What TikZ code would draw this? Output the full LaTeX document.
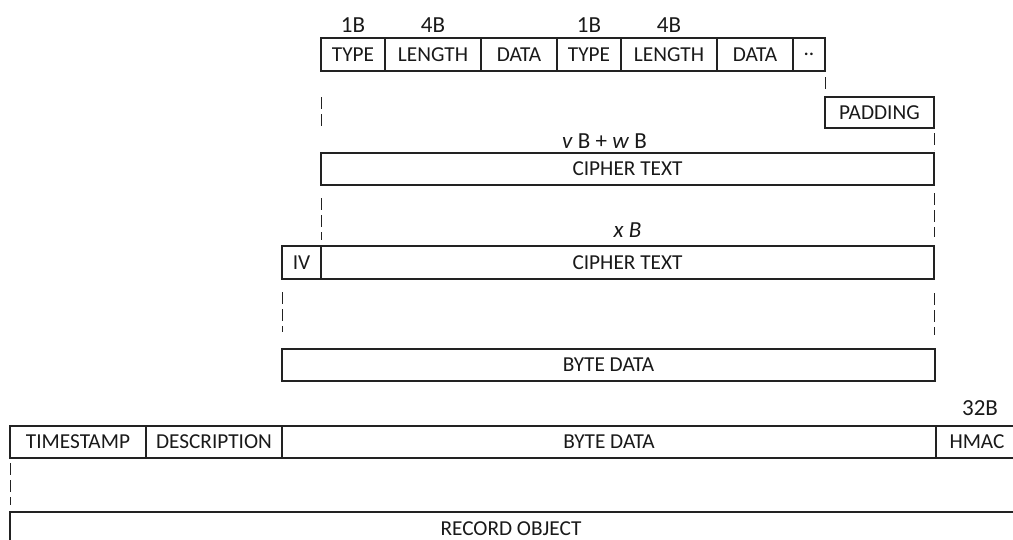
\documentclass[tikz,border=0pt]{standalone}
\usepackage{fontspec}
\setmainfont{Carlito}
\usetikzlibrary{positioning,calc}
\definecolor{ln}{HTML}{222222}
\tikzset{
  cell/.style={draw=ln, line width=1.2pt, inner sep=0pt, outer sep=0pt, anchor=north west,
    font=\fontsize{21.3}{24}\selectfont, text=black!90},
  txt/.style={inner sep=0pt, font=\fontsize{21.3}{24}\selectfont, text=black!90},
  lab/.style={inner sep=0pt, font=\fontsize{23}{26}\selectfont, text=black!90},
  frame/.style={draw=ln, line width=1.2pt},
  guide/.style={draw=ln, line width=1pt, dash pattern=on 12pt off 5pt},
}
\begin{document}
\begin{tikzpicture}[x=1pt,y=-1pt]
\useasboundingbox (0,0) rectangle (1013,539);
\clip (0,0) rectangle (1013,539);
% top row
\node[cell, minimum width=64pt, minimum height=33pt] (type1) at (321,38) {TYPE};
\node[cell, minimum width=96pt, minimum height=33pt] (len1) at (385,38) {LENGTH};
\node[cell, minimum width=76pt, minimum height=33pt] (data1) at (481,38) {DATA};
\node[cell, minimum width=64pt, minimum height=33pt] (type2) at (557,38) {TYPE};
\node[cell, minimum width=96pt, minimum height=33pt] (len2) at (621,38) {LENGTH};
\node[cell, minimum width=76pt, minimum height=33pt] (data2) at (717,38) {DATA};
\node[cell, minimum width=32pt, minimum height=33pt] (dots) at (793,38) {..};
\node[lab, above=5pt of type1] (l1) {1B};
\node[lab, above=5pt of len1] (l2) {4B};
\node[lab, above=5pt of type2] (l3) {1B};
\node[lab, above=5pt of len2] (l4) {4B};
% padding
\node[cell, minimum width=109pt, minimum height=31pt] (pad) at (825,97) {PADDING};
% cipher 1
\node[cell, minimum width=613pt, minimum height=32pt] (ct1) at (321,153) {CIPHER TEXT};
\node[lab, above=4pt of ct1, xshift=-23pt] (l5) {\textit{v} B + \textit{w} B};
% iv + cipher 2
\node[cell, minimum width=39pt, minimum height=33pt] (iv) at (282,246) {IV};
\node[cell, minimum width=613pt, minimum height=33pt] (ct2) at (321,246) {CIPHER TEXT};
\node[lab, above=8pt of ct2] (l6) {\textit{x B}};
% byte data 1
\node[cell, minimum width=653pt, minimum height=32pt] (bd1) at (282,349) {BYTE DATA};
% record row
\node[cell, minimum width=136pt, minimum height=32pt] (ts) at (10,426) {TIMESTAMP};
\node[cell, minimum width=136pt, minimum height=32pt] (desc) at (146,426) {DESCRIPTION};
\node[cell, minimum width=654pt, minimum height=32pt] (bd2) at (282,426) {BYTE DATA};
\node[cell, minimum width=82pt, minimum height=32pt] (hmac) at (936,426) {HMAC};
\node[lab, above=10pt of hmac, xshift=3pt] (l7) {32B};
% record object (box runs past the lower edge)
\coordinate (recnw) at (10,512);
\draw[frame] (10,545) -- (recnw) -- (1020,512);
\node[txt] (rec) at (511,528.5) {RECORD OBJECT};
% guides
\draw[guide] ([yshift=-26pt]type1.south west) -- ([yshift=24pt]ct1.north west);
\draw[guide] ([yshift=-6pt]dots.south east) -- ([yshift=4pt]pad.north west);
\draw[guide] ([yshift=-5pt]pad.south east) -- ([yshift=3pt]ct1.north east);
\draw[guide] ([yshift=-13pt]ct1.south west) -- ([yshift=6pt]ct2.north west);
\draw[guide] ([yshift=-8pt]ct1.south east) -- ([yshift=9pt]ct2.north east);
\draw[guide] ([yshift=-13pt]iv.south west) -- ([yshift=17pt]bd1.north west);
\draw[guide] ([yshift=-14pt]ct2.south east) -- ([yshift=14pt,xshift=-1pt]bd1.north east);
\draw[guide] ([yshift=-5pt]ts.south west) -- ([yshift=7pt]recnw);
\end{tikzpicture}
\end{document}
